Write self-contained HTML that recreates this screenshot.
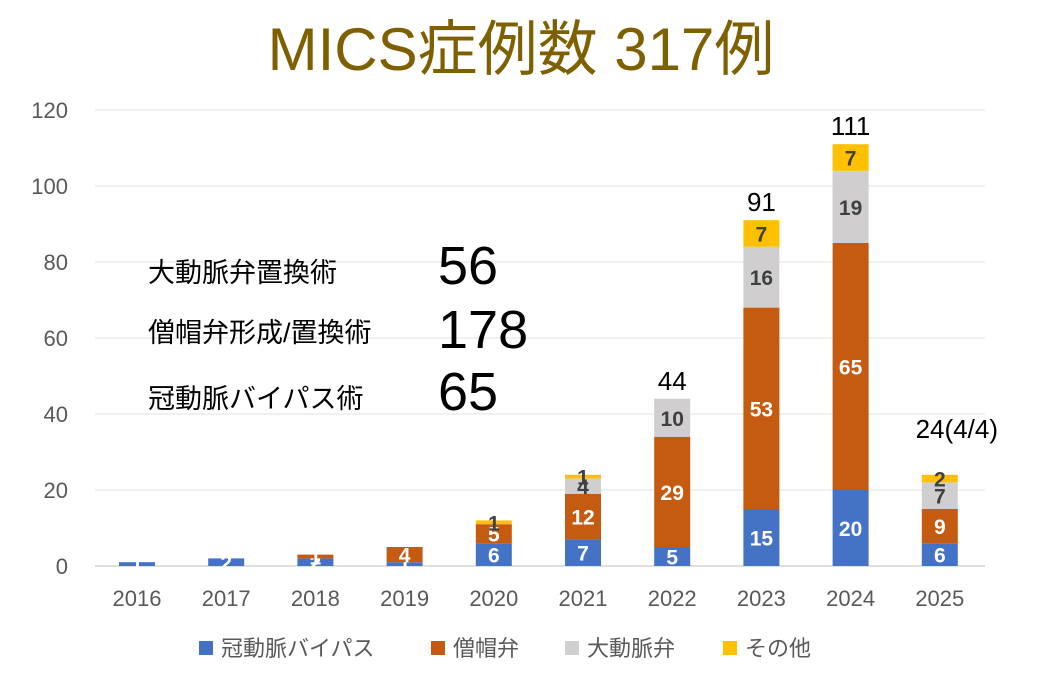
<!DOCTYPE html>
<html><head><meta charset="utf-8">
<style>
body{margin:0;background:#fff;width:1042px;height:674px;overflow:hidden;font-family:"Liberation Sans","Noto Sans CJK JP",sans-serif;}
svg text{font-family:"Liberation Sans","Noto Sans CJK JP",sans-serif;}
</style></head>
<body>
<svg width="1042" height="674">
<text x="521" y="70" text-anchor="middle" font-size="60" fill="#7f6000">MICS症例数 317例</text>
<g id="grid"></g><g id="bars"></g>
<g font-size="27" fill="#000">
<text x="148" y="282">大動脈弁置換術</text><text x="438" y="284" font-size="54">56</text>
<text x="148" y="342">僧帽弁形成/置換術</text><text x="438" y="348" font-size="54">178</text>
<text x="148" y="408">冠動脈バイパス術</text><text x="438" y="410" font-size="54">65</text>
</g>
<g font-size="22" fill="#595959">
<rect x="199" y="641" width="14" height="14" fill="#4472c4"/><text x="221" y="656">冠動脈バイパス</text>
<rect x="431" y="641" width="14" height="14" fill="#c55a11"/><text x="453" y="656">僧帽弁</text>
<rect x="565" y="641" width="14" height="14" fill="#d0cece"/><text x="587" y="656">大動脈弁</text>
<rect x="723" y="641" width="14" height="14" fill="#ffc000"/><text x="745" y="656">その他</text>
</g>
</svg>
<script>
const years=["2016","2017","2018","2019","2020","2021","2022","2023","2024","2025"];
const cabg=[1,2,2,1,6,7,5,15,20,6];
const mitral=[0,0,1,4,5,12,29,53,65,9];
const aortic=[0,0,0,0,0,4,10,16,19,7];
const other=[0,0,0,0,1,1,0,7,7,2];
const totalLabels=["","","","","","","44","91","111","24(4/4)"];
const yTicks=[0,20,40,60,80,100,120];
const NS="http://www.w3.org/2000/svg";
const x0=92.4,bw=89.2,y0=566,ppu=3.8,barW=36;
const X=i=>x0+bw*i+bw/2, Y=v=>y0-v*ppu;
const grid=document.getElementById('grid'),bars=document.getElementById('bars');
function mk(tag,attrs,parent,txt){const e=document.createElementNS(NS,tag);for(const k in attrs)e.setAttribute(k,attrs[k]);if(txt!==undefined)e.textContent=txt;parent.appendChild(e);return e;}
yTicks.forEach(t=>{
 const l=mk('line',{x1:95,x2:985,y1:Y(t),y2:Y(t),stroke:t===0?'#bfbfbf':'#e0e0e0','stroke-width':1},grid);
 
 
 const tx=mk('text',{x:68,y:Y(t)+8,'text-anchor':'end','font-size':22,fill:'#595959'},grid,t);
 
 
});
const series=[[cabg,'#4472c4','#fff','cabg'],[mitral,'#c55a11','#fff','mitral'],[aortic,'#d0cece','#404040','aortic'],[other,'#ffc000','#404040','other']];
years.forEach((yr,i)=>{
 let base=0;
 series.forEach(([arr,col,tc,nm])=>{
  const v=arr[i];if(!v)return;
  const r=mk('rect',{x:X(i)-barW/2,y:Y(base+v),width:barW,height:v*ppu,fill:col},bars);
  
  
  const t=mk('text',{x:X(i),y:Y(base+v/2)+8,'text-anchor':'middle','font-size':21,'font-weight':'bold',fill:tc},bars,v);
  
  
  base+=v;
 });
 const xl=mk('text',{x:X(i),y:606,'text-anchor':'middle','font-size':22,fill:'#595959'},bars,yr);
 
 
 if(totalLabels[i]){
  const tl=mk('text',{x:X(i)+(i===9?17:0),y:Y(base)-(i===9?37:9),'text-anchor':'middle','font-size':26,fill:'#000'},bars,totalLabels[i]);
  
  
 }
});
</script>
</body></html>
